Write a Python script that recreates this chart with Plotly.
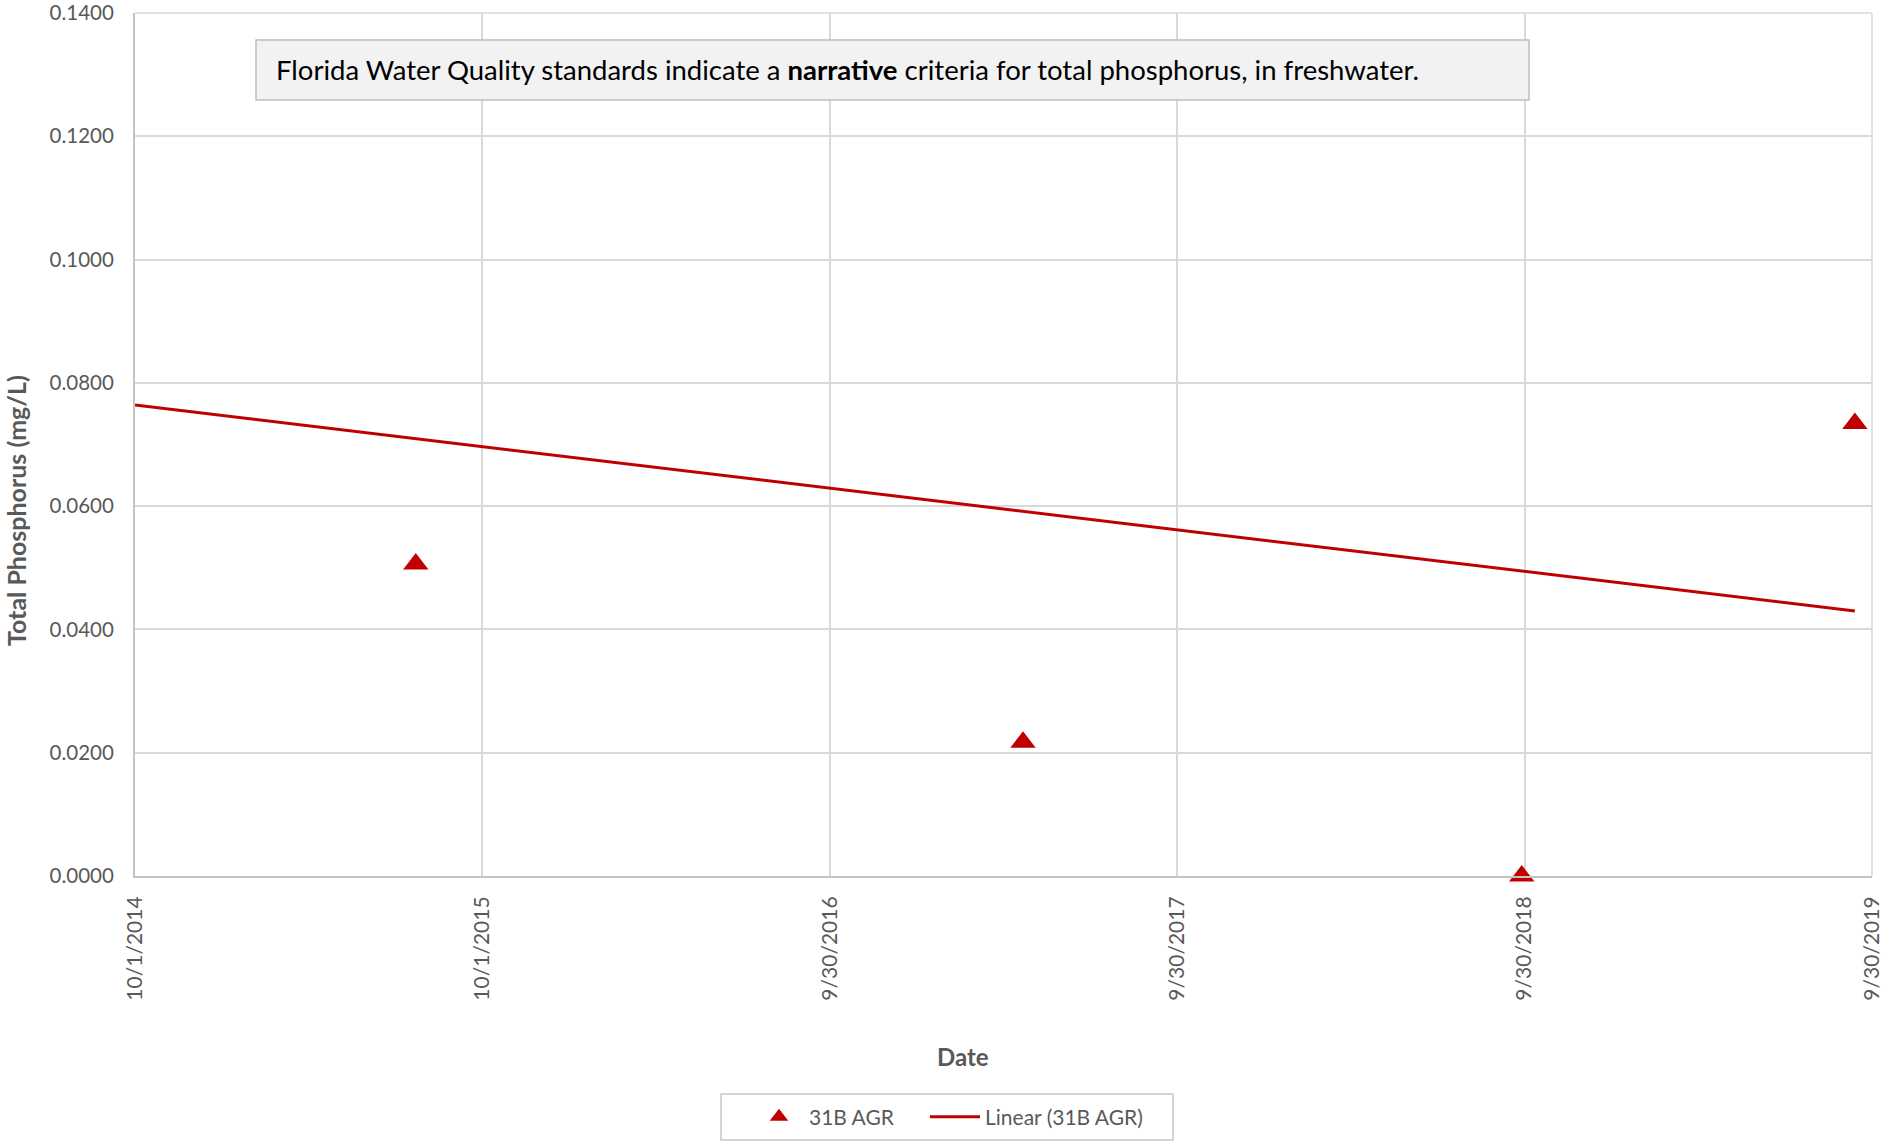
import plotly.graph_objects as go

# Sample results, station 31B AGR
sample_dates = ["2015-07-23", "2017-04-21", "2018-09-27", "2019-09-12"]
phosphorus_mg_l = [0.0506, 0.0217, 0.0000, 0.0734]

# Linear trend endpoints
trend_dates = ["2014-10-01", "2019-09-12"]
trend_values = [0.0764, 0.0430]

# Axis ticks
x_tick_dates = ["2014-10-01", "2015-10-01", "2016-09-30", "2017-09-30", "2018-09-30", "2019-09-30"]
x_tick_labels = ["10/1/2014", "10/1/2015", "9/30/2016", "9/30/2017", "9/30/2018", "9/30/2019"]
y_tick_values = [0.0, 0.02, 0.04, 0.06, 0.08, 0.10, 0.12, 0.14]
y_tick_labels = ["0.0000", "0.0200", "0.0400", "0.0600", "0.0800", "0.1000", "0.1200", "0.1400"]

RED = "#C00000"
GRID = "#D9D9D9"
AXIS = "#C4C4C4"
TEXT = "#595959"
FONT = "Lato"

# plot-area geometry in pixels
W, H = 1883, 1143
L, R, T, B = 135, 11, 13, 267
PW, PH = W - L - R, H - T - B


def px_x(x):
    return (x - L) / PW


def px_y(y):
    return (H - B - y) / PH


fig = go.Figure()

fig.add_trace(go.Scatter(
    x=sample_dates, y=phosphorus_mg_l, mode="markers", name="31B AGR",
    marker=dict(symbol="triangle-up", size=22, color=RED),
    cliponaxis=False, legend="legend",
))
fig.add_trace(go.Scatter(
    x=trend_dates, y=trend_values, mode="lines", name="Linear (31B AGR)",
    line=dict(color=RED, width=3),
    cliponaxis=False, legend="legend2",
))

legend_common = dict(
    orientation="h", yanchor="middle", y=px_y(1117), xanchor="left",
    borderwidth=0, bgcolor="rgba(0,0,0,0)",
    font=dict(family=FONT, size=21, color=TEXT),
    itemwidth=50,
)

fig.update_layout(
    width=W, height=H,
    margin=dict(l=L, r=R, t=T, b=B, autoexpand=False),
    paper_bgcolor="white", plot_bgcolor="white",
    font=dict(family=FONT, color=TEXT, size=21),
    showlegend=True,
    legend=dict(legend_common, x=px_x(749)),
    legend2=dict(legend_common, x=px_x(925)),
    xaxis=dict(
        type="date", range=["2014-10-01", "2019-09-30"],
        tickmode="array", tickvals=x_tick_dates, ticktext=x_tick_labels,
        tickangle=-90, ticks="", ticklabelstandoff=10, ticklabeloverflow="allow",
        showgrid=True, gridcolor=GRID, gridwidth=1.5,
        showline=True, linecolor=AXIS, linewidth=2,
        zeroline=False, automargin=False, tickfont=dict(size=21, color=TEXT),
    ),
    yaxis=dict(
        range=[0, 0.14],
        tickmode="array", tickvals=y_tick_values, ticktext=y_tick_labels,
        ticks="", ticklabelstandoff=15, ticklabeloverflow="allow",
        showgrid=True, gridcolor=GRID, gridwidth=1.5,
        showline=True, linecolor=AXIS, linewidth=2,
        zeroline=False, automargin=False, tickfont=dict(size=20.5, color=TEXT),
    ),
    shapes=[
        # top and right frame of the plot area, drawn in gridline grey
        dict(type="line", xref="paper", yref="paper", x0=0, x1=1, y0=1, y1=1,
             line=dict(color=GRID, width=1.5), layer="below"),
        dict(type="line", xref="paper", yref="paper", x0=1, x1=1, y0=0, y1=1,
             line=dict(color=GRID, width=1.5), layer="below"),
        # note box
        dict(type="rect", xref="paper", yref="paper",
             x0=px_x(256), x1=px_x(1529), y0=px_y(100), y1=px_y(40),
             fillcolor="#F2F2F2", line=dict(color="#BFBFBF", width=1.5), layer="above"),
        # frame around the legend entries
        dict(type="rect", xref="paper", yref="paper",
             x0=px_x(721), x1=px_x(1173), y0=px_y(1140), y1=px_y(1094),
             fillcolor="rgba(0,0,0,0)", line=dict(color="#C8C8C8", width=1.5), layer="above"),
    ],
)

fig.add_annotation(
    xref="paper", yref="paper", x=px_x(963), y=px_y(1056),
    text="<b>Date</b>", showarrow=False, xanchor="center", yanchor="middle",
    font=dict(family=FONT, size=24, color=TEXT),
)
fig.add_annotation(
    xref="paper", yref="paper", x=px_x(16), y=px_y(511),
    text="<b>Total Phosphorus (mg/L)</b>", showarrow=False, textangle=-90,
    xanchor="center", yanchor="middle",
    font=dict(family=FONT, size=25, color=TEXT),
)
fig.add_annotation(
    xref="paper", yref="paper", x=px_x(274), y=px_y(69),
    xanchor="left", yanchor="middle",
    text="Florida Water Quality standards indicate a <b>narrative</b> criteria for total phosphorus, in freshwater.",
    showarrow=False, align="left",
    font=dict(family=FONT, size=27.5, color="#000000"),
)

fig.write_html("out.html")
